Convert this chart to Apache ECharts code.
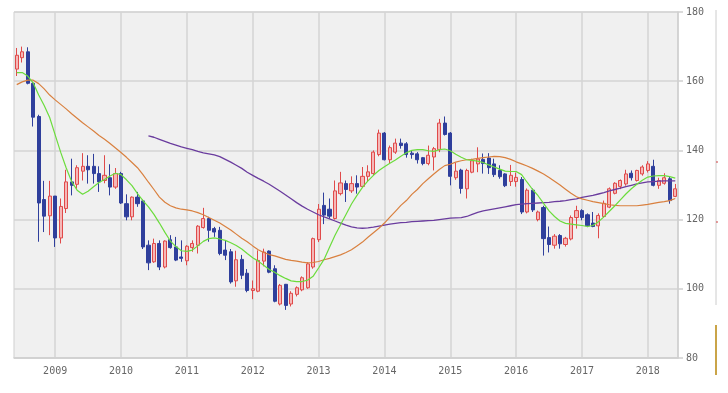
<!DOCTYPE html>
<html><head><meta charset="utf-8">
<script src="https://cdn.jsdelivr.net/npm/echarts@6/dist/echarts.min.js"></script>
<style>html,body{margin:0;padding:0;background:#fff}#c{width:728px;height:393px}</style>
</head><body><div id="c"></div>
<script>
// Monthly categories Jun 2008 .. Jun 2018
const categories = [];
for (let k = 0; k < 121; k++) {
  const m = 5 + k; const y = 2008 + Math.floor(m / 12); const mm = (m % 12) + 1;
  categories.push(y + '-' + (mm < 10 ? '0' + mm : '' + mm));
}
const yTickValues = [80, 100, 120, 140, 160, 180];

// [open, close, low, high]
const candles = [
[163.5,167.5,161.5,169.6],[166.8,168.5,165.4,170.0],[168.5,159.4,159.1,169.8],[159.4,149.6,146.9,159.7],
[149.8,124.8,113.6,150.3],[125.8,121.0,116.4,131.2],[121.1,126.8,115.5,131.2],[126.8,114.7,112.1,126.8],
[114.7,123.8,113.1,126.1],[123.2,130.9,121.9,134.4],[130.9,129.9,127.0,137.6],[130.2,135.0,128.9,135.7],
[134.0,135.4,131.3,139.2],[135.4,134.4,130.4,138.6],[135.4,133.3,130.4,139.0],[133.3,130.9,128.0,135.4],
[131.3,132.8,130.5,138.6],[132.1,129.4,127.0,136.0],[129.4,133.3,128.9,134.9],[133.3,124.8,124.5,133.8],
[124.6,120.8,119.8,127.3],[120.8,126.5,119.8,126.7],[126.5,124.6,123.7,128.0],[125.4,112.1,111.5,125.8],
[112.6,107.5,105.4,114.0],[107.8,113.1,107.5,114.5],[113.1,106.3,105.4,114.0],[106.3,113.8,105.9,114.0],
[114.2,111.9,111.6,115.5],[112.1,108.3,108.0,115.0],[109.2,108.8,107.8,114.0],[108.1,112.3,106.8,112.6],
[111.9,113.1,110.7,114.0],[112.6,118.1,110.2,118.4],[117.7,120.3,117.4,123.4],[120.3,116.9,113.6,120.8],
[117.4,116.4,115.0,117.9],[116.9,110.2,109.7,117.9],[111.2,109.7,108.3,114.0],[110.7,102.0,101.5,111.5],
[102.3,108.4,100.6,111.0],[108.5,103.9,102.8,109.8],[104.5,99.5,99.0,105.7],[99.5,100.0,97.0,102.4],
[99.3,108.2,99.0,111.1],[108.0,110.6,106.5,111.6],[110.9,104.8,104.5,111.1],[105.8,96.4,96.1,106.8],
[95.6,101.0,95.2,101.4],[101.3,95.2,93.9,101.4],[95.6,98.7,94.9,99.3],[98.4,100.3,97.8,100.7],
[99.7,103.2,99.3,103.6],[100.3,107.2,100.0,107.7],[106.3,114.5,105.8,114.8],[114.2,123.0,113.5,124.5],
[124.1,121.3,118.7,127.8],[123.0,121.0,120.3,126.1],[120.3,128.3,120.0,131.3],[127.5,130.6,127.0,133.8],
[130.4,128.7,125.1,131.3],[128.3,130.4,127.7,132.5],[130.4,129.4,127.5,132.8],[129.6,132.5,129.2,135.2],
[132.5,133.8,130.9,135.7],[133.3,139.5,132.8,140.0],[138.8,145.0,138.3,146.0],[145.0,137.3,137.1,145.3],
[137.3,140.8,136.3,141.4],[139.5,142.1,139.0,143.4],[142.1,141.4,140.5,143.4],[141.9,138.8,137.9,142.4],
[139.2,138.8,137.6,140.0],[139.0,137.3,136.2,139.5],[137.9,136.2,135.7,138.1],[136.2,138.6,135.7,141.4],
[138.1,140.5,134.2,141.0],[140.2,147.9,139.5,149.1],[147.9,144.6,144.3,149.8],[145.0,132.5,129.9,145.3],
[132.1,134.0,131.5,136.4],[134.3,129.0,127.5,134.7],[128.9,134.2,126.1,134.7],[133.7,137.0,133.4,137.6],
[136.1,137.5,133.7,140.9],[137.4,136.2,133.3,139.1],[137.8,135.0,133.2,139.2],[136.1,133.0,132.3,137.6],
[134.2,132.4,131.8,135.7],[133.2,129.8,129.4,133.4],[131.0,132.8,129.7,135.8],[131.0,132.2,129.5,133.6],
[131.6,122.2,121.6,132.3],[122.2,128.5,121.8,129.0],[128.5,122.8,122.2,129.0],[120.0,122.2,119.5,122.6],
[123.5,114.5,109.6,124.0],[114.8,112.8,110.5,118.0],[112.6,115.2,111.6,115.8],[115.4,113.0,111.6,115.8],
[112.8,114.6,112.2,115.0],[114.4,120.6,114.0,121.2],[120.6,122.6,117.4,124.0],[122.6,120.6,119.8,123.0],
[121.4,118.2,117.8,121.8],[119.0,118.0,117.8,122.2],[118.2,121.2,114.6,121.8],[120.9,124.7,120.6,125.5],
[123.6,128.9,123.3,129.3],[127.6,130.5,127.3,130.8],[129.6,131.3,128.8,131.6],[130.3,133.2,129.8,134.4],
[133.4,132.1,131.3,134.2],[131.3,134.2,131.0,134.4],[133.2,135.2,132.7,135.7],[134.2,136.1,133.6,136.9],
[135.4,129.9,129.6,137.3],[129.9,131.3,128.9,132.1],[130.5,132.1,130.1,133.4],[131.8,125.5,124.6,132.3],
[126.7,128.9,126.5,130.3]
];

const maShort = [
162.5,162.5,161.5,159.5,156.0,153.0,149.5,144.5,139.5,135.0,
131.0,128.5,127.3,128.2,129.5,130.7,131.6,132.6,133.4,133.0,
131.5,129.8,127.5,125.5,123.7,121.5,119.0,116.3,113.8,112.2,
111.0,110.8,111.2,112.4,113.7,114.5,114.7,114.4,114.0,113.3,
112.5,111.5,110.2,109.0,108.0,106.8,105.6,104.8,103.8,103.0,
102.3,102.1,102.1,102.5,103.6,106.0,108.5,112.0,115.5,118.5,
121.5,124.5,127.0,129.3,131.2,132.8,134.2,135.3,136.3,137.2,
138.3,139.3,140.0,140.2,140.2,139.9,139.7,140.2,140.4,139.9,
138.9,138.0,137.3,137.1,136.9,136.5,135.8,135.2,134.6,134.0,
133.9,133.9,133.0,130.8,128.7,126.9,124.7,122.5,120.9,119.6,
118.9,118.7,118.5,118.3,118.0,118.3,119.4,120.8,122.4,124.0,
125.7,127.4,128.9,130.2,131.4,132.3,132.6,132.7,132.7,132.4,132.0
];

const maMid = [
159.0,159.8,160.3,160.3,159.3,157.8,156.0,154.6,153.3,152.0,
150.6,149.3,148.0,146.8,145.6,144.3,143.2,142.0,140.7,139.4,
138.0,136.5,135.0,133.0,130.8,128.7,126.5,125.0,124.0,123.4,
123.0,122.8,122.5,122.0,121.4,120.6,119.8,119.0,118.0,117.0,
115.8,114.6,113.6,112.4,111.3,110.5,109.9,109.5,109.0,108.5,
108.2,108.0,107.7,107.5,107.6,107.9,108.4,108.8,109.3,109.8,
110.5,111.3,112.4,113.5,114.9,116.2,117.5,119.0,120.7,122.4,
124.1,125.5,127.3,128.7,130.4,131.8,133.2,134.5,135.6,136.0,
136.6,137.0,137.3,137.4,137.7,137.9,138.1,138.3,138.2,137.9,
137.4,136.7,136.1,135.5,134.8,134.0,133.2,132.2,131.1,130.0,
128.8,127.6,126.6,126.0,125.6,125.2,124.9,124.6,124.3,124.1,
124.0,124.0,124.0,124.0,124.2,124.4,124.7,125.0,125.2,125.5,126.1
];

const maLong = [
null,null,null,null,null,null,null,null,null,null,
null,null,null,null,null,null,null,null,null,null,
null,null,null,null,144.2,143.8,143.2,142.6,142.0,141.5,
141.0,140.6,140.2,139.7,139.3,139.0,138.7,138.2,137.4,136.6,
135.7,134.8,133.7,132.8,131.9,131.1,130.2,129.2,128.2,127.1,
126.0,124.9,123.9,123.0,122.2,121.4,120.8,120.2,119.6,119.0,
118.4,117.9,117.6,117.5,117.6,117.8,118.1,118.4,118.7,118.9,
119.1,119.2,119.4,119.5,119.6,119.7,119.8,120.0,120.2,120.4,
120.5,120.6,120.9,121.5,122.1,122.5,122.8,123.1,123.4,123.7,
124.0,124.3,124.5,124.6,124.7,124.8,124.9,125.0,125.2,125.3,
125.5,125.8,126.0,126.4,126.7,127.0,127.4,127.8,128.3,128.7,
129.1,129.5,129.9,130.3,130.6,130.9,131.0,131.1,131.2,131.2,131.2
];

const isJan = (i, v) => v.slice(5) === '01';
const font = 'DejaVu Sans Mono';
const chart = echarts.init(document.getElementById('c'), null, {renderer: 'canvas'});
chart.setOption({
  animation: false,
  backgroundColor: '#ffffff',
  grid: {left: 14, right: 50, top: 12, bottom: 35, show: true, backgroundColor: '#f0f0f0', borderColor: '#cfcfcf', borderWidth: 1},
  xAxis: {
    type: 'category', data: categories, boundaryGap: true,
    axisLine: {show: true, lineStyle: {color: '#cfcfcf', width: 1.5}},
    axisTick: {show: false},
    axisLabel: {interval: isJan, formatter: v => v.slice(0, 4), color: '#666', fontSize: 10, fontFamily: font, margin: 8},
    splitLine: {show: true, interval: isJan, alignWithLabel: true, lineStyle: {color: '#d4d4d4', width: 1.5}}
  },
  yAxis: {
    type: 'value', position: 'right', min: yTickValues[0], max: yTickValues[yTickValues.length - 1], interval: 20,
    axisLine: {show: true, lineStyle: {color: '#cfcfcf', width: 1.5}},
    axisTick: {show: true, length: 5, lineStyle: {color: '#cfcfcf', width: 1.5}},
    axisLabel: {color: '#666', fontSize: 10, fontFamily: font, margin: 8},
    splitLine: {show: true, lineStyle: {color: '#d4d4d4', width: 1.5}}
  },
  series: [
    {type: 'candlestick', data: candles, barWidth: '66%',
     itemStyle: {color: '#f5b8b8', color0: '#2f3f9c', borderColor: '#e04a4a', borderColor0: '#2f3f9c', borderWidth: 1}},
    {type: 'line', data: maLong, showSymbol: false, connectNulls: false, lineStyle: {color: '#6a3c9e', width: 1.3}},
    {type: 'line', data: maMid, showSymbol: false, lineStyle: {color: '#d9803f', width: 1.2}},
    {type: 'line', data: maShort, showSymbol: false, lineStyle: {color: '#6bdc3c', width: 1.2}}
  ],
  graphic: [
    {type: 'line', shape: {x1: 716, y1: 10, x2: 716, y2: 305}, style: {stroke: '#cccccc', lineWidth: 1}},
    {type: 'line', shape: {x1: 716, y1: 162, x2: 718, y2: 162}, style: {stroke: '#d04040', lineWidth: 1}},
    {type: 'line', shape: {x1: 716, y1: 222, x2: 718, y2: 222}, style: {stroke: '#d04040', lineWidth: 1}},
    {type: 'line', shape: {x1: 716, y1: 325, x2: 716, y2: 375}, style: {stroke: '#b8860b', lineWidth: 1.5}}
  ]
});
</script></body></html>
